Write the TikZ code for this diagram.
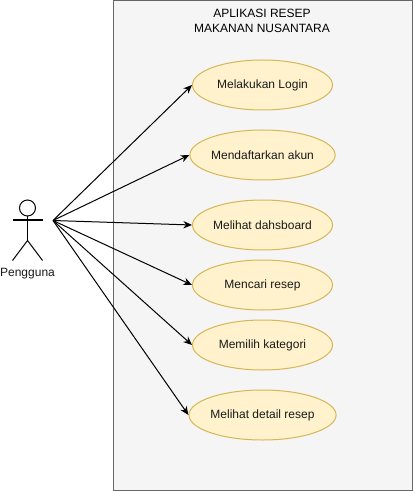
\documentclass[tikz,border=0pt]{standalone}
\usepackage{fontspec}
\setmainfont{Liberation Sans}
\usetikzlibrary{shapes.geometric,arrows.meta}
\definecolor{boxfill}{HTML}{F5F5F5}
\definecolor{boxline}{HTML}{666666}
\definecolor{ucfill}{HTML}{FFF2CC}
\definecolor{ucline}{HTML}{D6B656}
\definecolor{txt}{HTML}{1A1A1A}
\tikzset{
 usecase/.style={ellipse,draw=ucline,fill=ucfill,line width=0.75pt,minimum width=105pt,minimum height=37.5pt,inner sep=0pt,font=\fontsize{9pt}{11pt}\selectfont,text=txt},
 link/.style={draw=black,line width=0.75pt,-{Stealth[length=6.5pt,width=5.5pt]}},
 stick/.style={draw=black,line width=0.75pt}
}
\begin{document}
\begin{tikzpicture}[x=0.75pt,y=-0.75pt]
\useasboundingbox (0,0) rectangle (413,491);
\fill[white] (0,0) rectangle (413,491);
\node[draw=boxline,fill=boxfill,line width=0.75pt,minimum width=224.25pt,minimum height=366.75pt,inner sep=0pt,anchor=north west] (sys) at (112.5,0.5) {};
\node[align=center,font=\fontsize{9pt}{11.2pt}\selectfont,text=black] (title) at (262,20.5) {APLIKASI RESEP\\MAKANAN NUSANTARA};
\node[usecase] (u1) at (262.5,85) {Melakukan Login};
\node[usecase] (u2) at (262.5,155) {Mendaftarkan akun};
\node[usecase] (u3) at (262.5,225) {Melihat dahsboard};
\node[usecase] (u4) at (262.5,285) {Mencari resep};
\node[usecase] (u5) at (262.5,345) {Memilih kategori};
\node[usecase] (u6) at (262.5,415) {Melihat detail resep};
\node[circle,draw=black,fill=white,line width=0.75pt,minimum size=12pt,inner sep=0pt] (head) at (27.5,208) {};
\coordinate (hip) at (27.5,240.5);
\coordinate (armL) at (12.5,220);
\coordinate (armR) at (42.5,220);
\coordinate (legL) at (12.5,260.5);
\coordinate (legR) at (42.5,260.5);
\draw[stick] (head.south) -- (hip);
\draw[stick] (armL) -- (armR);
\draw[stick] (legL) -- (hip) -- (legR);
\node[font=\fontsize{9pt}{11pt}\selectfont,text=txt] (actor) at (27.5,273.5) {Pengguna};
\coordinate (hub) at (53,220.5);
\foreach \u in {u1,u2,u3,u4,u5,u6} \draw[link] (hub) -- (\u.west);
\end{tikzpicture}
\end{document}
